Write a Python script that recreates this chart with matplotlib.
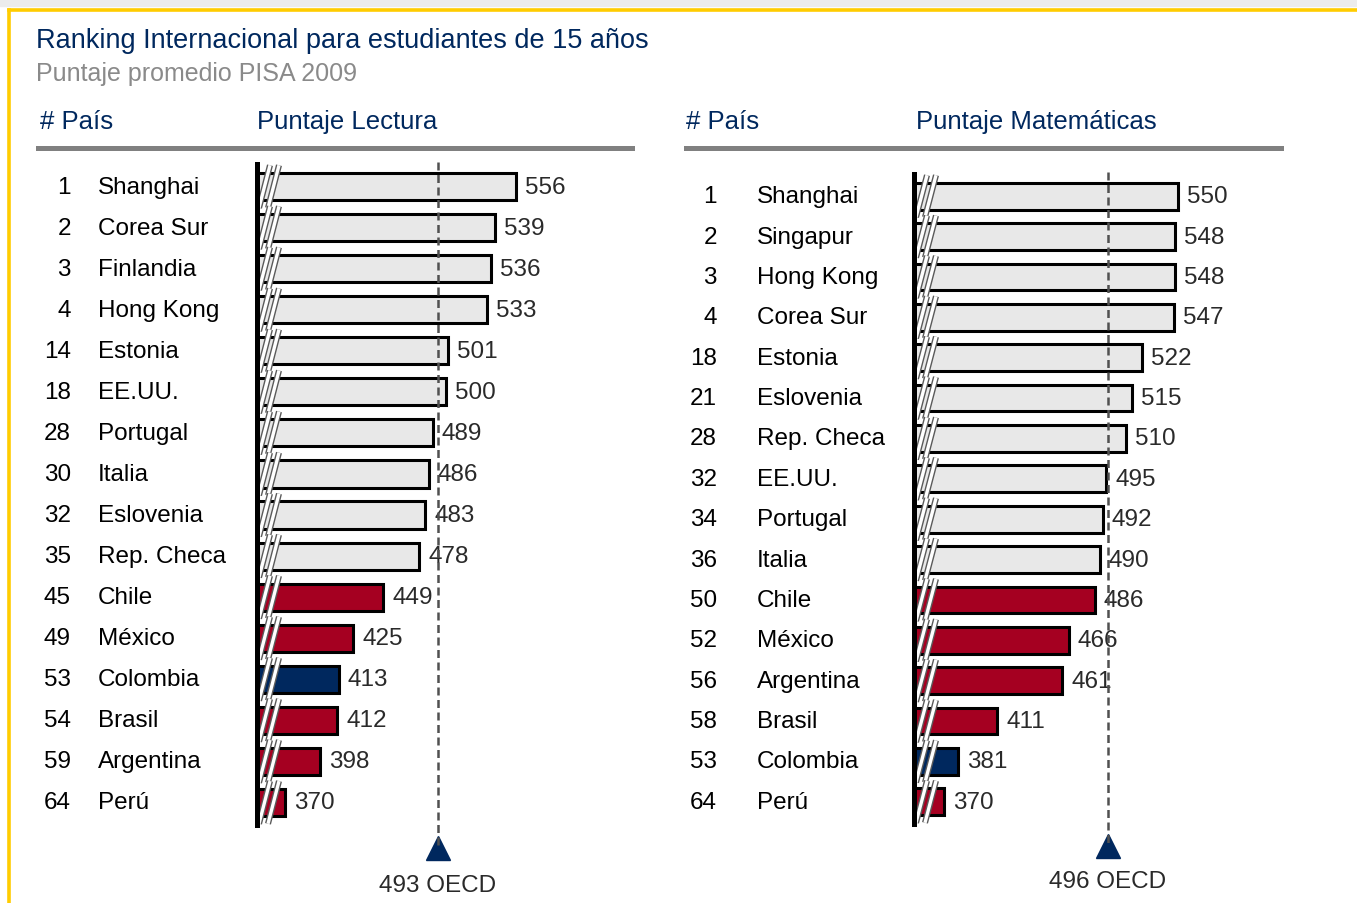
import matplotlib
matplotlib.use("Agg")
import matplotlib.pyplot as plt
import matplotlib.patheffects as pe
from matplotlib.transforms import blended_transform_factory
from matplotlib.lines import Line2D
from matplotlib.patches import Rectangle

# --- data ---------------------------------------------------------------
read_ranks = ["1", "2", "3", "4", "14", "18", "28", "30", "32", "35",
              "45", "49", "53", "54", "59", "64"]
read_countries = ["Shanghai", "Corea Sur", "Finlandia", "Hong Kong", "Estonia",
                  "EE.UU.", "Portugal", "Italia", "Eslovenia", "Rep. Checa",
                  "Chile", "México", "Colombia", "Brasil", "Argentina", "Perú"]
read_scores = [556, 539, 536, 533, 501, 500, 489, 486, 483, 478,
               449, 425, 413, 412, 398, 370]
read_oecd = 493

math_ranks = ["1", "2", "3", "4", "18", "21", "28", "32", "34", "36",
              "50", "52", "56", "58", "53", "64"]
math_countries = ["Shanghai", "Singapur", "Hong Kong", "Corea Sur", "Estonia",
                  "Eslovenia", "Rep. Checa", "EE.UU.", "Portugal", "Italia",
                  "Chile", "México", "Argentina", "Brasil", "Colombia", "Perú"]
math_scores = [550, 548, 548, 547, 522, 515, 510, 495, 492, 490,
               486, 466, 461, 411, 381, 370]
math_oecd = 496

latam = {"Chile", "México", "Brasil", "Argentina", "Perú"}

# --- style --------------------------------------------------------------
W, H = 1357, 904
NAVY = "#00285e"
RED = "#a50021"
GRAY_BAR = "#e8e8e8"
BASE = 347
FS = 17.5
plt.rcParams["font.family"] = ["Liberation Sans", "DejaVu Sans"]


def fx(px):
    return px / W


def fy(py):
    return 1 - py / H


def bar_color(country):
    if country == "Colombia":
        return NAVY
    if country in latam:
        return RED
    return GRAY_BAR


def panel(fig, rect, ranks, countries, scores, oecd, rank_x, name_x,
          tri_y, lab_y):
    ax = fig.add_axes(rect)
    n = len(scores)
    y = list(range(n))
    colors = [bar_color(c) for c in countries]
    ax.barh(y, [s - BASE for s in scores], left=BASE, height=0.66,
            color=colors, edgecolor="black", linewidth=2.2, zorder=2)
    ax.set_xlim(BASE, 600)
    ax.set_ylim(n - 0.45, -0.55)
    for s in ["top", "right", "bottom"]:
        ax.spines[s].set_visible(False)
    ax.spines["left"].set_linewidth(3.6)
    ax.spines["left"].set_zorder(5)
    ax.set_xticks([])
    ax.set_yticks([])

    # pixels per score unit, for the break marks and label offsets
    ppu = rect[2] * W / (600 - BASE)

    # axis break marks
    for yi in y:
        for b0, t0 in [(2, 13), (11, 22)]:
            ax.plot([BASE + b0 / ppu, BASE + t0 / ppu], [yi + 0.52, yi - 0.52],
                    color="white", lw=2.4, zorder=4, solid_capstyle="butt",
                    path_effects=[pe.Stroke(linewidth=4.4, foreground="#5a5a5a"),
                                  pe.Normal()])

    # values
    for yi, s in zip(y, scores):
        ax.text(s + 9 / ppu, yi, str(s), va="center", ha="left",
                fontsize=FS, color="#2a2a2a")

    # OECD line and marker
    ax.plot([oecd, oecd], [-0.6, n + 0.05], color="#505050", lw=1.8,
            dashes=(3.2, 1.8), zorder=3, clip_on=False)
    ax.plot([oecd], [tri_y], marker="^", ms=17, color=NAVY, clip_on=False)
    ax.text(oecd, lab_y, f"{oecd} OECD", ha="center", va="center",
            fontsize=FS, color="#2a2a2a", clip_on=False)

    # rank and country names
    tr = blended_transform_factory(fig.transFigure, ax.transData)
    for yi, r, c in zip(y, ranks, countries):
        ax.text(fx(rank_x), yi, r, transform=tr, ha="right", va="center",
                fontsize=FS, color="black")
        ax.text(fx(name_x), yi, c, transform=tr, ha="left", va="center",
                fontsize=FS, color="black")
    return ax


fig = plt.figure(figsize=(W / 100, H / 100), dpi=100)

# frame
fig.patches.append(Rectangle((0, fy(7)), 1, 7 / H, transform=fig.transFigure,
                             color="#ececec", zorder=0))
fig.lines.append(Line2D([fx(9), 1], [fy(11), fy(11)], transform=fig.transFigure,
                        color="#ffcc00", lw=2.6))
fig.lines.append(Line2D([fx(9), fx(9)], [fy(11), 0], transform=fig.transFigure,
                        color="#ffcc00", lw=2.6))

fig.text(fx(36), fy(41), "Ranking Internacional para estudiantes de 15 años",
         fontsize=19.5, color=NAVY, va="center", ha="left")
fig.text(fx(36), fy(74), "Puntaje promedio PISA 2009",
         fontsize=18, color="#8a8a8a", va="center", ha="left")

for x0, x1, hx, tx, title in [(38, 632, 40, 257, "Puntaje Lectura"),
                              (686, 1281, 686, 916, "Puntaje Matemáticas")]:
    fig.text(fx(hx), fy(122), "# País", fontsize=18.5, color=NAVY,
             va="center", ha="left")
    fig.text(fx(tx), fy(122), title, fontsize=18.5, color=NAVY,
             va="center", ha="left")
    fig.lines.append(Line2D([fx(x0), fx(x1)], [fy(149), fy(149)],
                            transform=fig.transFigure, color="#808080", lw=3.6))

panel(fig, [fx(257), fy(826), 313 / W, 661 / H], read_ranks, read_countries,
      read_scores, read_oecd, 71, 98, 16.1, 17.0)
panel(fig, [fx(914), fy(825), 329 / W, 650 / H], math_ranks, math_countries,
      math_scores, math_oecd, 717, 757, 16.1, 16.95)

fig.savefig("out.png", dpi=100)
